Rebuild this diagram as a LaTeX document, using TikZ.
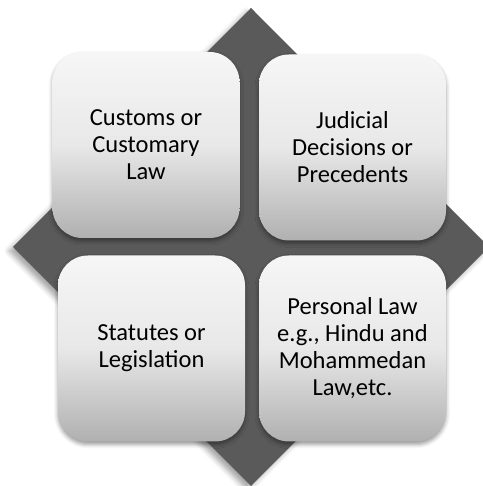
\documentclass[tikz,border=0pt]{standalone}
\usepackage{fontspec}
\setmainfont{Carlito}
\usepackage{tikz}
\usetikzlibrary{positioning,shadows.blur}

\definecolor{diamondgray}{RGB}{90,90,90}
\definecolor{boxtop}{RGB}{246,246,246}
\definecolor{boxmid}{RGB}{232,232,232}
\definecolor{boxbottom}{RGB}{176,176,176}

\tikzset{
  lawbox/.style={rectangle, rounded corners=30pt, minimum width=187pt, minimum height=186pt,
    top color=boxtop, bottom color=boxbottom, middle color=boxmid, align=center,
    font=\fontsize{24.5}{27}\selectfont,
    blur shadow={shadow xshift=0pt, shadow yshift=-3pt, shadow blur radius=4pt, shadow opacity=40}},
}

\begin{document}
\begin{tikzpicture}[x=1pt, y=1pt]
    \useasboundingbox (0,0) rectangle (482,486);
    % background diamond
    \fill[diamondgray, blur shadow={shadow xshift=-4pt, shadow yshift=-4pt, shadow blur radius=5pt, shadow opacity=35}]
        (251,478) -- (13,239) -- (251,0) -- (489,239) -- cycle;
    % the four sources of law
    \node[lawbox] (customs)   at (146,341)   {Customs or\\Customary\\Law};
    \node[lawbox] (judicial)  at (352.5,338.5) {Judicial\\Decisions or\\Precedents};
    \node[lawbox] (statutes)  at (151.5,137.5) {Statutes or\\Legislation};
    \node[lawbox] (personal)  at (352.5,137.5) {Personal Law\\e.g., Hindu and\\Mohammedan\\Law,etc.};
\end{tikzpicture}
\end{document}
